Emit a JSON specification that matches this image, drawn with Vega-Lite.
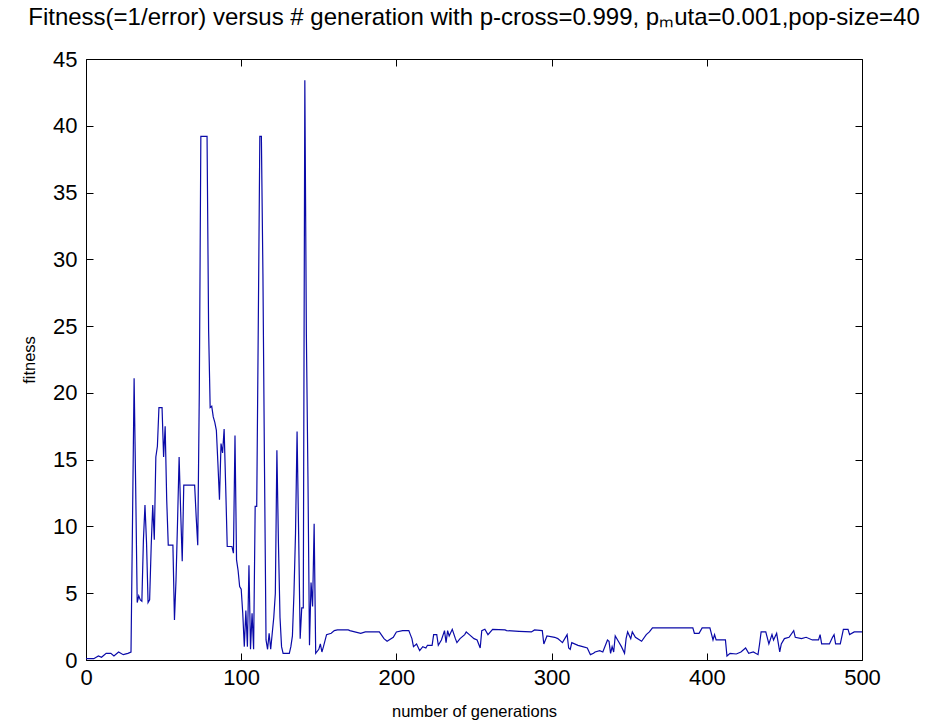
{
  "$schema": "https://vega.github.io/schema/vega-lite/v6.json",
  "width": 776,
  "height": 601,
  "autosize": {"type": "none"},
  "padding": {"left": 86, "top": 59, "right": 74, "bottom": 67},
  "background": "white",
  "config": {
    "view": {"stroke": "black", "strokeWidth": 1},
    "font": "Liberation Sans",
    "axis": {
      "grid": false,
      "domainColor": "black",
      "tickColor": "black",
      "tickSize": -7,
      "labelColor": "black",
      "titleColor": "black",
      "labelFont": "Liberation Sans",
      "titleFont": "Liberation Sans",
      "labelFontSize": 22,
      "titleFontSize": 16.5,
      "titleFontWeight": "normal",
      "labelFlush": false
    }
  },
  "title": {
    "text": "Fitness(=1/error) versus # generation with p-cross=0.999, pₘuta=0.001,pop-size=40",
    "font": "Liberation Sans",
    "fontSize": 24,
    "fontWeight": "normal",
    "color": "black",
    "anchor": "middle",
    "offset": 18
  },
  "data": {
    "values": [
      {"g":0,"v":0.1},{"g":5,"v":0.1},{"g":8,"v":0.3},{"g":10,"v":0.2},{"g":13,"v":0.5},{"g":16,"v":0.5},{"g":18,"v":0.3},{"g":21,"v":0.6},{"g":24,"v":0.4},{"g":27,"v":0.5},{"g":29,"v":0.6},
      {"g":30,"v":10.7},{"g":31,"v":21.1},{"g":32,"v":13.0},{"g":33,"v":4.3},{"g":34,"v":4.8},{"g":35,"v":4.5},{"g":36,"v":4.4},{"g":37,"v":9.0},{"g":38,"v":11.6},{"g":39,"v":8.8},{"g":40,"v":4.3},
      {"g":41,"v":4.5},{"g":42,"v":8.5},{"g":43,"v":11.6},{"g":44,"v":9.0},{"g":45,"v":15.2},{"g":46,"v":16.0},{"g":47,"v":18.9},{"g":49,"v":18.9},{"g":50,"v":15.2},{"g":51,"v":17.5},{"g":52,"v":12.0},
      {"g":53,"v":8.6},{"g":56,"v":8.6},{"g":57,"v":3.0},{"g":58,"v":6.0},{"g":59,"v":10.4},{"g":60,"v":15.2},{"g":61,"v":11.1},{"g":62,"v":7.4},{"g":63,"v":13.1},{"g":70,"v":13.1},{"g":71,"v":10.7},
      {"g":72,"v":8.6},{"g":73,"v":20.0},{"g":74,"v":39.2},{"g":78,"v":39.2},{"g":79,"v":24.7},{"g":80,"v":18.9},{"g":81,"v":19.0},{"g":82,"v":18.2},{"g":83,"v":17.8},{"g":84,"v":17.2},{"g":85,"v":14.7},
      {"g":86,"v":12.0},{"g":87,"v":16.2},{"g":88,"v":15.5},{"g":89,"v":17.3},{"g":90,"v":13.0},{"g":91,"v":8.5},{"g":94,"v":8.5},{"g":95,"v":8.0},{"g":96,"v":16.8},{"g":97,"v":7.5},{"g":98,"v":6.7},
      {"g":99,"v":5.5},{"g":100,"v":5.3},{"g":101,"v":3.5},{"g":102,"v":1.0},{"g":103,"v":3.7},{"g":104,"v":1.0},{"g":105,"v":7.1},{"g":106,"v":0.8},{"g":107,"v":3.5},{"g":108,"v":0.8},{"g":109,"v":11.5},
      {"g":110,"v":11.5},{"g":111,"v":25.0},{"g":112,"v":39.2},{"g":113,"v":39.2},{"g":114,"v":28.9},{"g":115,"v":14.5},{"g":116,"v":1.5},{"g":117,"v":0.8},{"g":118,"v":2.0},{"g":119,"v":0.8},{"g":120,"v":2.0},
      {"g":121,"v":3.2},{"g":122,"v":5.0},{"g":123,"v":15.7},{"g":124,"v":8.7},{"g":125,"v":3.2},{"g":126,"v":1.0},{"g":127,"v":0.5},{"g":131,"v":0.5},{"g":132,"v":1.0},{"g":133,"v":1.8},{"g":134,"v":5.0},
      {"g":135,"v":9.5},{"g":136,"v":17.1},{"g":137,"v":9.5},{"g":138,"v":1.6},{"g":139,"v":3.9},{"g":140,"v":3.9},{"g":141,"v":43.4},{"g":142,"v":24.3},{"g":143,"v":13.8},{"g":144,"v":1.1},{"g":145,"v":5.8},
      {"g":146,"v":4.0},{"g":147,"v":10.2},{"g":148,"v":0.5},{"g":150,"v":0.8},{"g":151,"v":1.2},{"g":152,"v":0.6},{"g":153,"v":1.0},{"g":155,"v":1.9},{"g":158,"v":2.0},{"g":160,"v":2.2},{"g":162,"v":2.25},
      {"g":169,"v":2.25},{"g":170,"v":2.2},{"g":177,"v":2.0},{"g":180,"v":2.1},{"g":189,"v":2.1},{"g":192,"v":1.6},{"g":194,"v":1.4},{"g":198,"v":1.7},{"g":200,"v":2.1},{"g":204,"v":2.2},{"g":208,"v":2.2},
      {"g":209,"v":1.9},{"g":210,"v":1.6},{"g":211,"v":1.0},{"g":213,"v":1.2},{"g":215,"v":0.7},{"g":217,"v":1.0},{"g":219,"v":0.9},{"g":220,"v":1.1},{"g":223,"v":1.1},{"g":224,"v":1.9},{"g":226,"v":1.9},
      {"g":227,"v":1.1},{"g":229,"v":1.5},{"g":231,"v":2.2},{"g":232,"v":1.3},{"g":233,"v":2.2},{"g":234,"v":1.8},{"g":236,"v":2.3},{"g":238,"v":1.6},{"g":239,"v":1.3},{"g":241,"v":1.6},{"g":244,"v":1.9},
      {"g":245,"v":2.1},{"g":247,"v":1.9},{"g":250,"v":1.6},{"g":252,"v":1.5},{"g":254,"v":0.9},{"g":255,"v":2.2},{"g":257,"v":2.3},{"g":259,"v":1.9},{"g":262,"v":2.3},{"g":270,"v":2.25},{"g":271,"v":2.2},
      {"g":279,"v":2.15},{"g":287,"v":2.1},{"g":289,"v":2.25},{"g":294,"v":2.2},{"g":295,"v":1.2},{"g":297,"v":1.8},{"g":302,"v":1.7},{"g":304,"v":1.6},{"g":307,"v":1.3},{"g":310,"v":1.9},{"g":311,"v":0.9},
      {"g":312,"v":0.8},{"g":313,"v":1.3},{"g":317,"v":1.1},{"g":320,"v":1.0},{"g":323,"v":0.9},{"g":325,"v":0.4},{"g":327,"v":0.5},{"g":328,"v":0.6},{"g":331,"v":0.7},{"g":333,"v":0.6},{"g":336,"v":1.5},
      {"g":337,"v":1.4},{"g":338,"v":0.5},{"g":339,"v":1.0},{"g":340,"v":0.6},{"g":341,"v":1.8},{"g":343,"v":1.4},{"g":345,"v":1.0},{"g":347,"v":0.5},{"g":348,"v":1.6},{"g":349,"v":2.1},{"g":351,"v":1.6},
      {"g":352,"v":2.1},{"g":354,"v":1.7},{"g":358,"v":1.4},{"g":361,"v":1.9},{"g":363,"v":2.1},{"g":365,"v":2.4},{"g":391,"v":2.4},{"g":392,"v":2.0},{"g":395,"v":2.0},{"g":397,"v":2.4},{"g":402,"v":2.4},
      {"g":404,"v":1.5},{"g":405,"v":1.9},{"g":406,"v":1.5},{"g":412,"v":1.5},{"g":413,"v":0.3},{"g":415,"v":0.5},{"g":419,"v":0.45},{"g":422,"v":0.6},{"g":425,"v":0.9},{"g":427,"v":0.5},{"g":430,"v":0.6},
      {"g":433,"v":0.4},{"g":434,"v":1.2},{"g":435,"v":2.1},{"g":438,"v":2.1},{"g":440,"v":1.2},{"g":442,"v":1.9},{"g":443,"v":1.5},{"g":445,"v":2.0},{"g":447,"v":0.6},{"g":448,"v":1.2},{"g":450,"v":1.6},
      {"g":453,"v":1.7},{"g":456,"v":2.2},{"g":457,"v":1.7},{"g":461,"v":1.6},{"g":464,"v":1.7},{"g":468,"v":1.5},{"g":472,"v":1.5},{"g":473,"v":1.9},{"g":474,"v":1.2},{"g":479,"v":1.2},{"g":481,"v":1.7},
      {"g":482,"v":1.9},{"g":483,"v":1.2},{"g":486,"v":1.2},{"g":488,"v":2.3},{"g":491,"v":2.3},{"g":492,"v":1.9},{"g":495,"v":2.1},{"g":500,"v":2.1}
    ]
  },
  "layer": [
    {
      "mark": {"type": "line", "color": "#0a0aa8", "strokeWidth": 1.2, "clip": true},
      "encoding": {
        "x": {"field": "g", "type": "quantitative", "scale": {"domain": [0, 500], "nice": false},
              "axis": {"orient": "bottom", "title": "number of generations", "values": [0,100,200,300,400,500], "labelPadding": 14, "titlePadding": 15, "domain": false}},
        "y": {"field": "v", "type": "quantitative", "scale": {"domain": [0, 45], "nice": false},
              "axis": {"orient": "left", "title": "fitness", "values": [0,5,10,15,20,25,30,35,40,45], "labelPadding": 16, "titlePadding": 15, "domain": false}}
      }
    },
    {
      "mark": {"type": "line", "opacity": 0},
      "encoding": {
        "x": {"field": "g", "type": "quantitative", "scale": {"domain": [0, 500], "nice": false},
              "axis": {"orient": "top", "title": null, "labels": false, "values": [0,100,200,300,400,500], "domain": false}},
        "y": {"field": "v", "type": "quantitative", "scale": {"domain": [0, 45], "nice": false},
              "axis": {"orient": "right", "title": null, "labels": false, "values": [0,5,10,15,20,25,30,35,40,45], "domain": false}}
      }
    }
  ],
  "resolve": {"axis": {"x": "independent", "y": "independent"}}
}
